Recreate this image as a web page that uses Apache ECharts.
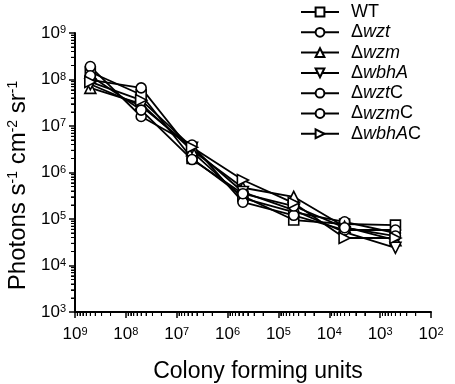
<!DOCTYPE html>
<html>
<head>
<meta charset="utf-8">
<script src="https://cdn.jsdelivr.net/npm/echarts@6/dist/echarts.min.js"></script>
<style>
  html, body { margin: 0; padding: 0; background: #fff; }
  #chart { width: 455px; height: 384px; }
</style>
</head>
<body>
<div id="chart"></div>
<script>
// colony forming units (x) for each dilution
var cfu = [5e8, 5e7, 5e6, 5e5, 5e4, 5e3, 5e2];

// photons s-1 cm-2 sr-1
var wt     = [1.45e8, 4.7e7, 2.0e6, 3.1e5, 9.5e4, 7.8e4, 7.4e4];
var wzt    = [9.8e7, 6.6e7, 2.8e6, 2.8e5, 1.4e5, 8.7e4, 5.0e4];
var wzm    = [6.6e7, 3.0e7, 3.0e6, 4.7e5, 3.0e5, 6.8e4, 3.5e4];
var wbhA   = [7.9e7, 2.7e7, 3.4e6, 3.8e5, 1.55e5, 5.2e4, 2.4e4];
var wztC   = [1.9e8, 1.6e7, 3.9e6, 2.3e5, 1.2e5, 5.8e4, 5.8e4];
var wzmC   = [1.2e8, 2.2e7, 1.9e6, 3.5e5, 1.9e5, 6.5e4, 4.3e4];
var wbhAC  = [8.9e7, 3.6e7, 3.5e6, 6.9e5, 2.2e5, 3.9e4, 3.9e4];

var names   = ['WT', 'Δwzt', 'Δwzm', 'ΔwbhA', 'ΔwztC', 'ΔwzmC', 'ΔwbhAC'];
// legend text pieces: [upright prefix, italic part, upright suffix]
var legendParts = [
    ['WT', '', ''], ['Δ', 'wzt', ''], ['Δ', 'wzm', ''], ['Δ', 'wbhA', ''],
    ['Δ', 'wzt', 'C'], ['Δ', 'wzm', 'C'], ['Δ', 'wbhA', 'C']
];
var values  = [wt, wzt, wzm, wbhA, wztC, wzmC, wbhAC];
var symbols = ['rect', 'circle', 'triangle', 'triangle', 'circle', 'circle', 'triangle'];
var rotates = [0, 0, 0, 180, 0, 0, -90];

// axis ranges (decades)
var xDecades = [2, 9];
var yDecades = [3, 9];

var FONT = 'Liberation Sans, Arial, sans-serif';

var chartDom = document.getElementById('chart');
var myChart = echarts.init(chartDom);

function powLabel(v) {
    var e = Math.round(Math.log10(v));
    return '{b|10}{s|' + e + '}';
}

// minor tick values 2..9 x 10^d inside a decade range
function minorValues(d) {
    var out = [];
    for (var e = d[0]; e < d[1]; e++) {
        for (var k = 2; k <= 9; k++) out.push(k * Math.pow(10, e));
    }
    return out;
}

var tickRich = {
    b: { fontSize: 17, fontFamily: FONT, color: '#000', lineHeight: 17, padding: [5, 0, 0, 0], verticalAlign: 'bottom' },
    s: { fontSize: 11, fontFamily: FONT, color: '#000', lineHeight: 11, verticalAlign: 'top' }
};

var series = [];
for (var i = 0; i < names.length; i++) {
    var pts = [];
    for (var j = 0; j < cfu.length; j++) {
        pts.push([cfu[j], values[i][j]]);
    }
    series.push({
        name: names[i],
        type: 'line',
        data: pts,
        symbol: symbols[i],
        symbolSize: symbols[i] === 'triangle' ? 11 : 10,
        symbolRotate: rotates[i],
        showAllSymbol: true,
        lineStyle: { color: '#000', width: 1.8 },
        itemStyle: { color: '#fff', borderColor: '#000', borderWidth: 1.6 },
        emphasis: { disabled: true },
        z: 3
    });
}

// minor log ticks drawn by a custom series through the axes' scales
var xMinor = minorValues(xDecades).map(function (v) { return [v, Math.pow(10, yDecades[0])]; });
var yMinor = minorValues(yDecades).map(function (v) { return [Math.pow(10, xDecades[1]), v]; });
series.push({
    type: 'custom',
    name: 'minor-x',
    clip: false,
    data: xMinor,
    renderItem: function (params, api) {
        var p = api.coord([api.value(0), api.value(1)]);
        return { type: 'line', shape: { x1: p[0], y1: p[1], x2: p[0], y2: p[1] + 4 }, style: { stroke: '#000', lineWidth: 1 } };
    }
});
series.push({
    type: 'custom',
    name: 'minor-y',
    clip: false,
    data: yMinor,
    renderItem: function (params, api) {
        var p = api.coord([api.value(0), api.value(1)]);
        return { type: 'line', shape: { x1: p[0] - 4, y1: p[1], x2: p[0], y2: p[1] }, style: { stroke: '#000', lineWidth: 1 } };
    }
});

// second pair of axes carrying the same minor ticks (same lines, drawn twice at most)
function minorAxis(pos, d, inverse) {
    return {
        type: 'log',
        logBase: 10,
        position: pos,
        inverse: inverse,
        min: Math.pow(10, d[0]),
        max: Math.pow(10, d[1]),
        axisLine: { show: false },
        axisLabel: { show: false },
        splitLine: { show: false },
        axisTick: {
            show: true,
            inside: false,
            length: 4,
            customValues: minorValues(d),
            lineStyle: { color: '#000', width: 1 }
        }
    };
}

var option = {
    animation: false,
    grid: { left: 75, right: 24, top: 33, bottom: 72, outerBoundsMode: 'none', containLabel: false },
    legend: {
        orient: 'vertical',
        left: 300,
        top: 3,
        padding: 0,
        itemWidth: 38,
        itemHeight: 11,
        itemGap: 2.3,
        data: names,
        formatter: function (name) {
            var p = legendParts[names.indexOf(name)];
            var s = '{n|' + p[0] + '}';
            if (p[1]) s += '{i|' + p[1] + '}';
            if (p[2]) s += '{n|' + p[2] + '}';
            return s;
        },
        textStyle: {
            padding: [0, 0, 0, 7],
            rich: {
                n: { fontSize: 18, fontFamily: FONT, color: '#000', lineHeight: 20 },
                i: { fontSize: 18, fontFamily: FONT, fontStyle: 'italic', color: '#000', lineHeight: 20 }
            }
        }
    },
    xAxis: [{
        type: 'log',
        logBase: 10,
        position: 'bottom',
        inverse: true,
        min: Math.pow(10, xDecades[0]),
        max: Math.pow(10, xDecades[1]),
        name: 'Colony forming units',
        nameLocation: 'middle',
        nameGap: 48,
        nameTextStyle: { fontSize: 23, fontFamily: FONT, color: '#000', padding: [0, 0, 0, 10] },
        axisLine: { lineStyle: { color: '#000', width: 2 } },
        axisTick: { inside: false, length: 6, lineStyle: { color: '#000', width: 1.5 } },
        splitLine: { show: false },
        axisLabel: { margin: 14, formatter: powLabel, rich: tickRich }
    }, minorAxis('bottom', xDecades, true)],
    yAxis: [{
        type: 'log',
        logBase: 10,
        position: 'left',
        min: Math.pow(10, yDecades[0]),
        max: Math.pow(10, yDecades[1]),
        name: '{a|Photons s}{s|-1}{a| cm}{s|-2}{a| sr}{s|-1}',
        nameLocation: 'middle',
        nameGap: 42,
        nameTextStyle: {
            padding: [0, 26, 0, 0],
            rich: {
                a: { fontSize: 24, fontFamily: FONT, color: '#000', lineHeight: 24, padding: [6, 0, 0, 0], verticalAlign: 'bottom' },
                s: { fontSize: 14, fontFamily: FONT, color: '#000', lineHeight: 14, verticalAlign: 'top' }
            }
        },
        axisLine: { show: true, lineStyle: { color: '#000', width: 2 } },
        axisTick: { show: true, inside: false, length: 6, lineStyle: { color: '#000', width: 1.5 } },
        splitLine: { show: false },
        axisLabel: { margin: 9, formatter: powLabel, rich: tickRich }
    }, minorAxis('left', yDecades, false)],
    series: series
};

option && myChart.setOption(option);
</script>
</body>
</html>
